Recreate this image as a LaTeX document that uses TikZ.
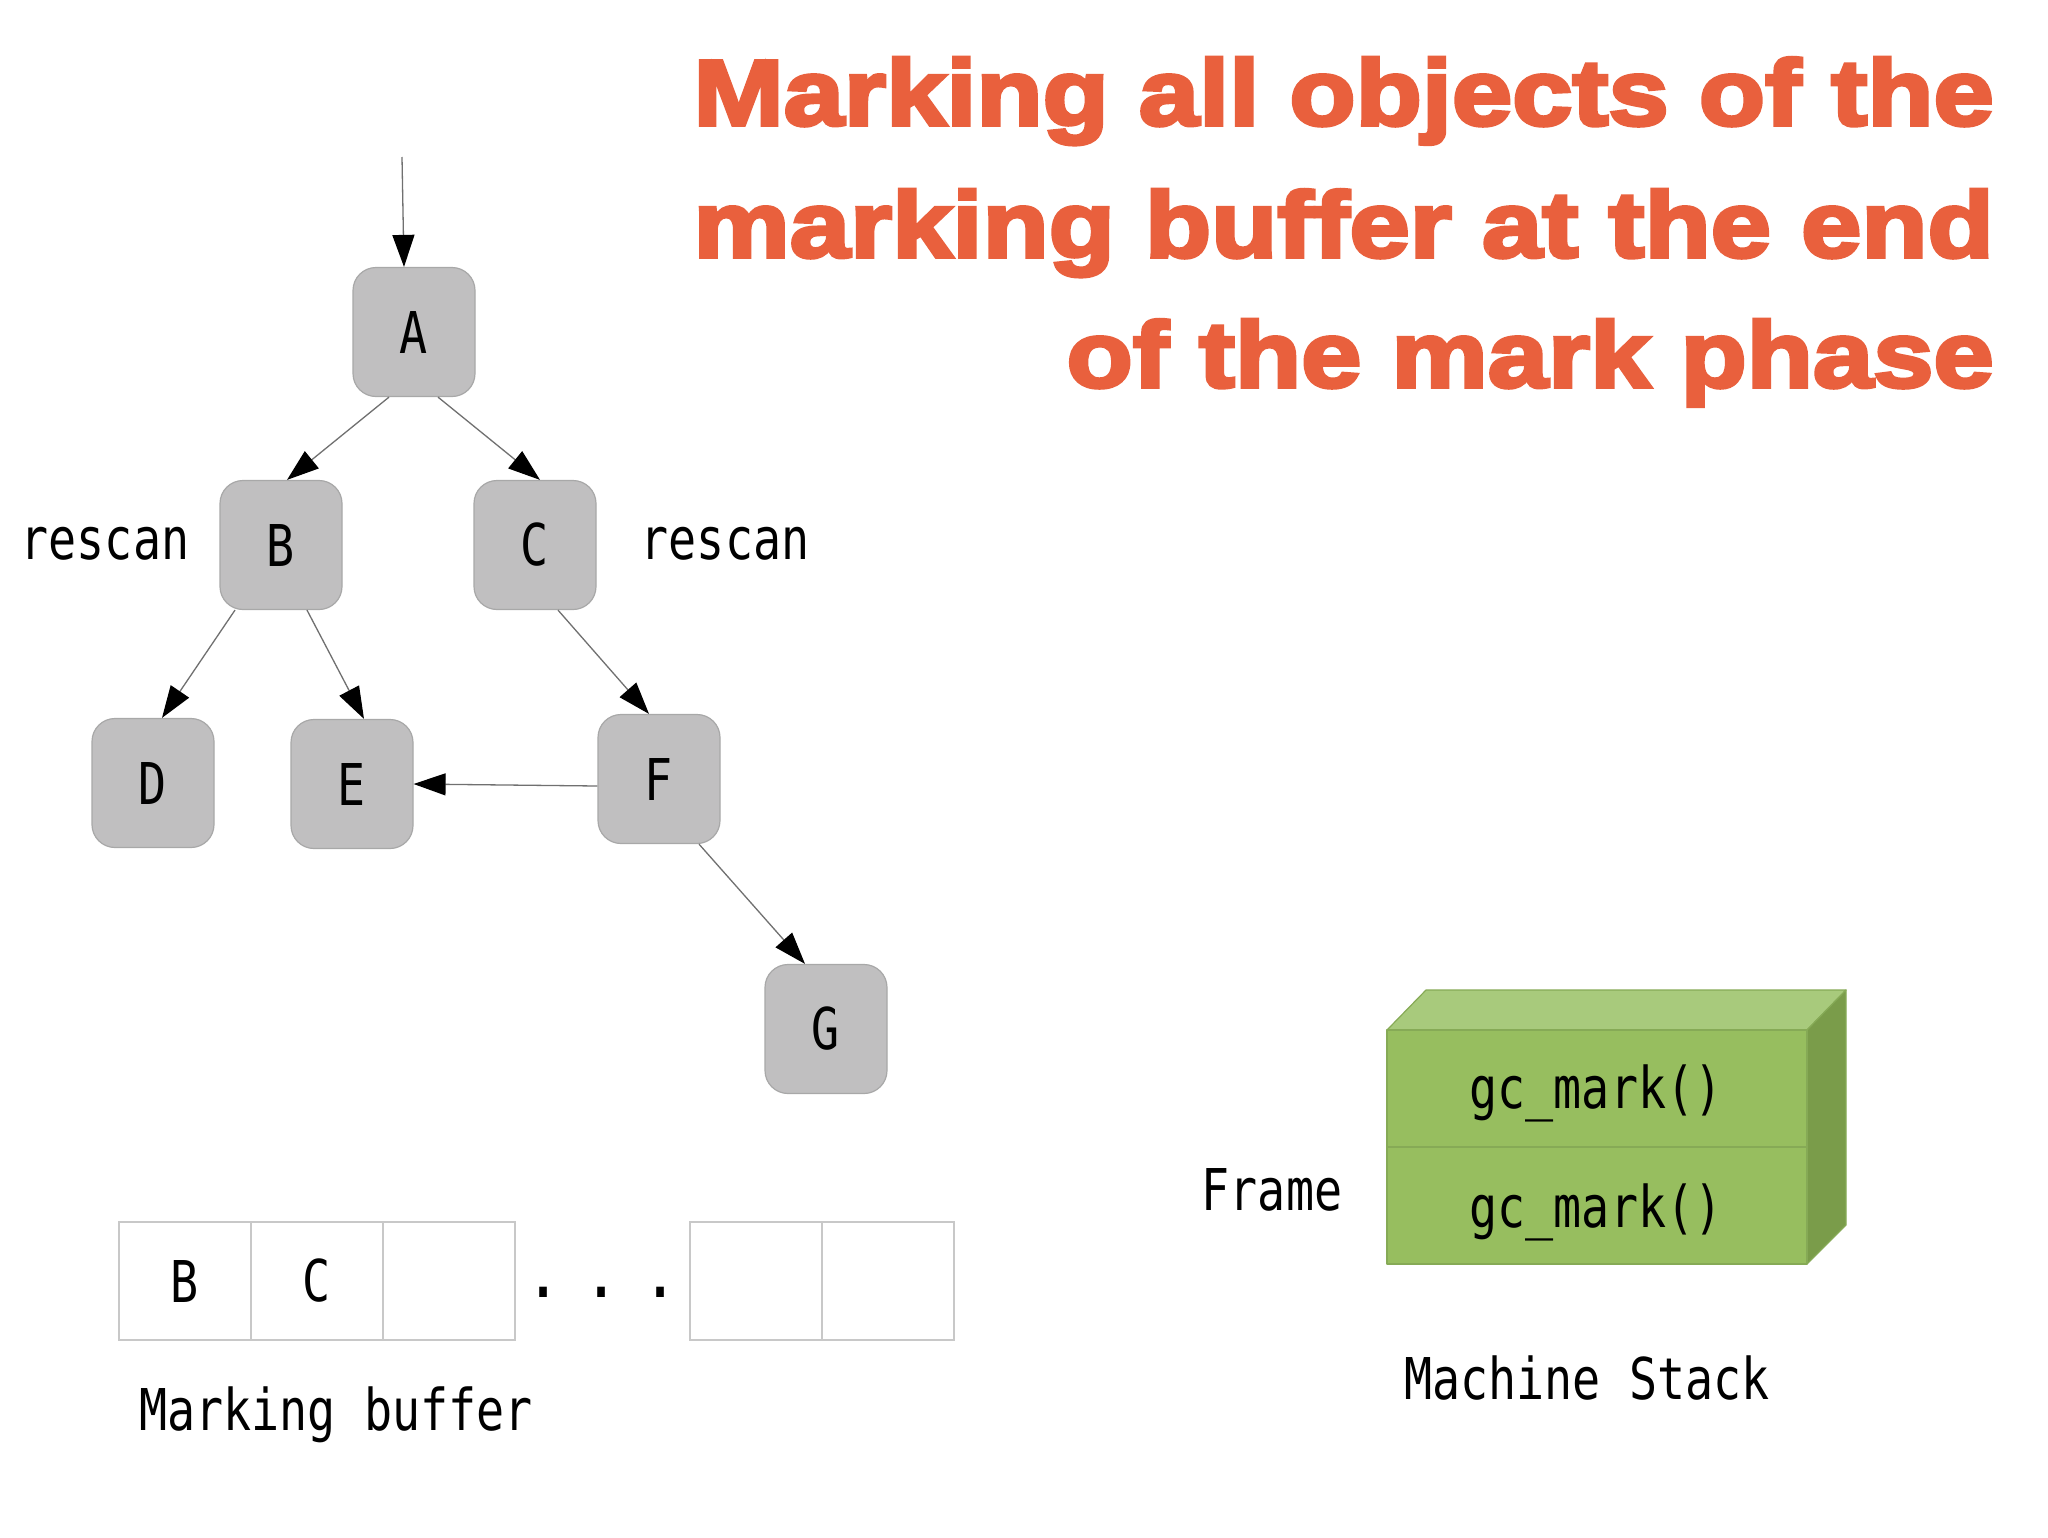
\documentclass[tikz,border=0pt]{standalone}
\usepackage{fontspec}
\usetikzlibrary{arrows.meta}
\newfontfamily\monof[FakeStretch=0.81]{DejaVu Sans Mono}
\newfontfamily\monobf[FakeStretch=0.81]{DejaVu Sans Mono Bold}
\newfontfamily\titlef[FakeBold=4,FakeStretch=1.165,Ligatures=NoCommon]{Liberation Sans Bold}
\newcommand\monotext{\monof\fontsize{57.6}{60}\selectfont}
\newcommand\titletext{\titlef\fontsize{93}{128}\selectfont}
\definecolor{titlec}{HTML}{E9603D}
\definecolor{boxfill}{HTML}{C0BFC0}
\definecolor{boxline}{HTML}{A8A8A8}
\definecolor{edgec}{HTML}{707070}
\definecolor{cellline}{HTML}{C8C8C8}
\definecolor{gfront}{HTML}{97BE5F}
\definecolor{gtop}{HTML}{A8CA7C}
\definecolor{gside}{HTML}{7A9C4A}
\definecolor{gline}{HTML}{86AA56}
\tikzset{
  obj/.style={draw=boxline, fill=boxfill, rounded corners=23pt, minimum width=122pt,
    minimum height=129pt, inner sep=0pt, line width=1.2pt, font=\monotext},
  edge/.style={draw=edgec, line width=1.3pt, -{Triangle[length=32pt,width=22pt,color=black]}},
  cell/.style={draw=cellline, minimum width=132pt, minimum height=118pt, inner sep=0pt,
    line width=1.2pt, font=\monotext},
  lbl/.style={anchor=base, inner sep=0pt, font=\monotext},
  ttl/.style={anchor=base east, inner sep=0pt, text=titlec, font=\titletext},
  face/.style={draw=gline, line width=1.2pt, line join=round},
}
\begin{document}
\begin{tikzpicture}[x=1pt, y=-1pt]
\useasboundingbox[fill=white] (0,0) rectangle (2048,1537);

% title
\node[ttl] (t1) at (1994,125) {Marking all objects of the};
\node[ttl] (t2) at (1994,257) {marking buf{}fer at the end};
\node[ttl] (t3) at (1994,387) {of the mark phase};

% object graph
\node[obj] (A) at (414,332) {A};
\node[obj] (B) at (281,545) {B};
\node[obj] (C) at (535,545) {C};
\node[obj] (D) at (153,783) {D};
\node[obj] (E) at (352,784) {E};
\node[obj] (F) at (659,779) {F};
\node[obj] (G) at (826,1029) {G};

\coordinate (root) at (402,157);
\draw[edge] (root) -- ([xshift=-10pt]A.north);
\draw[edge] ([xshift=-25pt]A.south) -- ([xshift=6pt]B.north);
\draw[edge] ([xshift=24pt]A.south) -- ([xshift=5pt]C.north);
\draw[edge] ([xshift=-46pt]B.south) -- ([xshift=9pt]D.north);
\draw[edge] ([xshift=26pt]B.south) -- ([xshift=12pt]E.north);
\draw[edge] ([xshift=23pt]C.south) -- ([xshift=-10pt]F.north);
\draw[edge] ([yshift=-7pt]F.west) -- (E.east);
\draw[edge] ([xshift=40pt]F.south) -- ([xshift=-21pt]G.north);

\node[lbl] (r1) at (105,559) {rescan};
\node[lbl] (r2) at (725,559) {rescan};

% marking buffer
\node[cell] (c1) at (185,1281) {B};
\node[cell] (c2) at (317,1281) {C};
\node[cell] (c3) at (449,1281) {};
\node[cell] (c4) at (756,1281) {};
\node[cell] (c5) at (888,1281) {};
\node[lbl, font={\monobf\fontsize{57.6}{60}\selectfont}] (dots) at (602,1297) {.\hspace{30pt}.\hspace{30pt}.};
\node[lbl] (mb) at (336,1430) {Marking buffer};

% machine stack
\fill[gtop, draw=gline, line width=1.2pt, line join=round]
  (1387,1030) -- (1426,990) -- (1846,990) -- (1807,1030) -- cycle;
\fill[gside, draw=gline, line width=1.2pt, line join=round]
  (1807,1030) -- (1846,990) -- (1846,1225) -- (1807,1264) -- cycle;
\node[face, fill=gfront, minimum width=420pt, minimum height=117pt, inner sep=0pt]
  (s1) at (1597,1088.5) {};
\node[face, fill=gfront, minimum width=420pt, minimum height=117pt, inner sep=0pt]
  (s2) at (1597,1205.5) {};
\node[lbl] (g1) at (1596,1108) {gc\_mark()};
\node[lbl] (g2) at (1596,1227) {gc\_mark()};
\node[lbl] (fr) at (1272,1210) {Frame};
\node[lbl] (ms) at (1587,1399) {Machine Stack};
\end{tikzpicture}
\end{document}
